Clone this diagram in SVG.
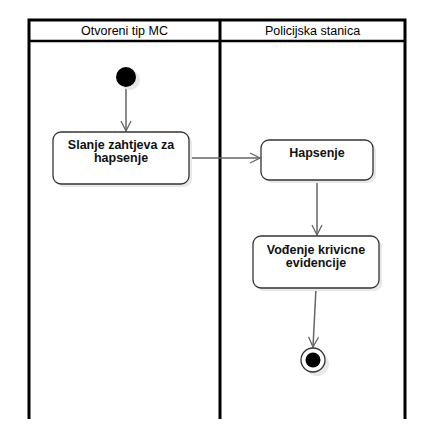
<svg xmlns="http://www.w3.org/2000/svg" width="440" height="438" viewBox="0 0 440 438">
<defs>
<style>
.lane{stroke:#000;stroke-width:3;fill:none}
.hdr{font-family:"Liberation Sans",Arial,sans-serif;font-size:12.5px;fill:#000;text-anchor:middle}
.box{fill:#fff;stroke:#333;stroke-width:1.3}
.shadow{fill:#e8e8e8;stroke:none}
.lbl{font-family:"Liberation Sans",Arial,sans-serif;font-size:12.5px;font-weight:bold;fill:#111;text-anchor:middle}
.conn{stroke:#666;stroke-width:1.5;fill:none}
</style>
<marker id="arr" viewBox="0 0 12 12" refX="11" refY="6" markerWidth="12" markerHeight="12" markerUnits="userSpaceOnUse" orient="auto">
<path d="M1,1 L11,6 L1,11" fill="none" stroke="#666" stroke-width="1.3"/>
</marker>
</defs>
<rect width="440" height="438" fill="#fff"/>
<g id="lanes">
<path class="lane" d="M29,419 V20 H405 V419 M220,20 V419"/>
<path d="M29,41 H405" stroke="#000" stroke-width="2.5"/>
<text class="hdr" x="124.5" y="35">Otvoreni tip MC</text>
<text class="hdr" x="312.5" y="35">Policijska stanica</text>
</g>
<g id="connectors">
<path class="conn" d="M126,87 V131" marker-end="url(#arr)"/>
<path class="conn" d="M189,158 H260" marker-end="url(#arr)"/>
<path class="conn" d="M317,180 V235" marker-end="url(#arr)"/>
<path class="conn" d="M316,288 L313,347" marker-end="url(#arr)"/>
</g>
<g id="start">
<circle class="shadow" cx="130" cy="80" r="10"/>
<circle cx="126" cy="77" r="10" fill="#000"/>
</g>
<g id="slanje">
<rect class="shadow" x="56" y="135" width="136" height="52" rx="8"/>
<rect class="box" x="53" y="132" width="136" height="52" rx="8"/>
<text class="lbl" x="121" y="149">Slanje zahtjeva za</text>
<text class="lbl" x="121" y="162">hapsenje</text>
</g>
<g id="hapsenje">
<rect class="shadow" x="264" y="143" width="112" height="40" rx="8"/>
<rect class="box" x="261" y="140" width="112" height="40" rx="8"/>
<text class="lbl" x="317" y="157">Hapsenje</text>
</g>
<g id="vodjenje">
<rect class="shadow" x="256" y="239" width="126" height="52" rx="8"/>
<rect class="box" x="253" y="236" width="126" height="52" rx="8"/>
<text class="lbl" x="316" y="254">Vođenje krivicne</text>
<text class="lbl" x="316" y="267">evidencije</text>
</g>
<g id="end">
<circle class="shadow" cx="317" cy="364" r="12"/>
<circle cx="313" cy="360" r="12" fill="#fff" stroke="#333" stroke-width="1.3"/>
<circle cx="313" cy="360" r="7.5" fill="#000"/>
</g>
</svg>
